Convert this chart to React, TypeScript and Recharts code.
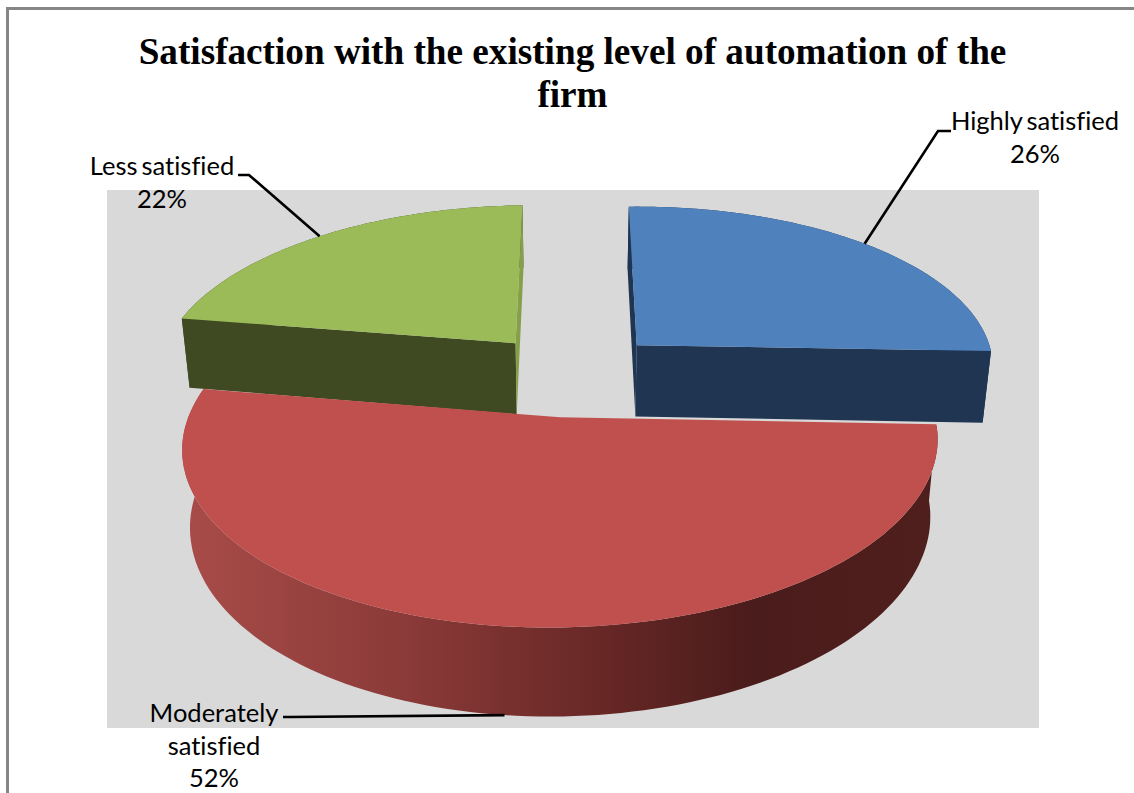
import React from "react";
import { PieChart, Pie } from "recharts";

const titleLines = ["Satisfaction with the existing level of automation of the", "firm"];
// Drawing order puts the front slice last; the clockwise order is kept: Less → Highly → Moderately
const categories = ["Less satisfied", "Highly satisfied", "Moderately satisfied"];
const shares = [22, 26, 52];
const wrappedNames: string[][] = [["Less satisfied"], ["Highly satisfied"], ["Moderately", "satisfied"]];

const topColors = ["#9bbb59", "#4f81bd", "#c0504d"];
const rimColors = ["#3f4a22", "#1f3552", "url(#redRim)"];
const startWallColors = ["#3f4a22", "#1f3552", ""];
const endWallColors = ["#86a04a", "#1f3552", ""];

const data = categories.map((name, i) => ({ name, value: shares[i], fill: topColors[i] }));

const W = 1134;
const H = 793;
const CX = 572;
const CY = 374;
const RADIUS = 360;
const EXPLODE = 91;
const DIST = 2500;
const HORIZON = 1153;
const DEPTH = 73;
const SHRINK = 0.02;
const ROLL = 0.012;
const firstAngle = 90 + (shares[0] / 100) * 360;

const labelLayout = [
  { elbow: [249, 175], end: [238, 175], textX: 162, baseY: 175 },
  { elbow: [938, 131], end: [951, 131], textX: 1035, baseY: 130 },
  { elbow: [290, 717], end: [283, 717], textX: 214, baseY: 722 },
];
const LINE_H = 32.7;

const rad = (d: number) => (d * Math.PI) / 180;

function project(cx: number, cy: number, r: number, thetaDeg: number, midDeg: number, z: number) {
  const u = EXPLODE * Math.sin(rad(midDeg)) + r * Math.sin(rad(thetaDeg));
  const v = EXPLODE * Math.cos(rad(midDeg)) + r * Math.cos(rad(thetaDeg));
  const p = DIST / (DIST + v);
  const s = 1 - (SHRINK * z) / DEPTH;
  return [cx + u * p * s, cy - HORIZON + (HORIZON + z) * p - ROLL * u * p];
}

const toPath = (pts: number[][]) =>
  "M" + pts.map((q) => `${q[0].toFixed(1)},${q[1].toFixed(1)}`).join("L") + "Z";

function Slice3D(props: any) {
  const { cx, cy, outerRadius, startAngle, endAngle, index } = props;
  const a = 90 - startAngle;
  const b = 90 - endAngle;
  const mid = (a + b) / 2;
  const n = 120;
  const arc = (z: number) => {
    const out: number[][] = [];
    for (let i = 0; i <= n; i++) out.push(project(cx, cy, outerRadius, a + ((b - a) * i) / n, mid, z));
    return out;
  };
  const apexT = project(cx, cy, 0, 0, mid, 0);
  const apexB = project(cx, cy, 0, 0, mid, DEPTH);
  const top = arc(0);
  const bot = arc(DEPTH);
  return (
    <g>
      <defs>
        <linearGradient id="redRim" x1="0" y1="0" x2="1" y2="0">
          <stop offset="0" stopColor="#a84c49" />
          <stop offset="0.3" stopColor="#8a3a38" />
          <stop offset="0.55" stopColor="#682826" />
          <stop offset="0.75" stopColor="#4a1c1b" />
          <stop offset="1" stopColor="#4f1f1d" />
        </linearGradient>
      </defs>
      <path d={toPath([...top, ...bot.slice().reverse()])} fill={rimColors[index]} />
      {startWallColors[index] && <path d={toPath([apexT, top[0], bot[0], apexB])} fill={startWallColors[index]} />}
      {endWallColors[index] && <path d={toPath([apexT, top[n], bot[n], apexB])} fill={endWallColors[index]} />}
      <path d={toPath([apexT, ...top])} fill={topColors[index]} />
    </g>
  );
}

function SliceLabel(props: any) {
  const { cx, cy, outerRadius, midAngle, percent, index } = props;
  const mid = 90 - midAngle;
  const layout = labelLayout[index];
  const anchor = project(cx, cy, outerRadius, mid, mid, index === 2 ? DEPTH : 0);
  const lines = [...wrappedNames[index], `${Math.round(percent * 100)}%`];
  return (
    <g>
      <polyline
        points={`${anchor[0]},${anchor[1]} ${layout.elbow[0]},${layout.elbow[1]} ${layout.end[0]},${layout.end[1]}`}
        fill="none"
        stroke="#000"
        strokeWidth={2.6}
      />
      <text
        x={layout.textX}
        y={layout.baseY}
        textAnchor="middle"
        fontFamily="Lato, sans-serif"
        fontSize={25.5}
        fill="#000"
        style={{ fontVariantLigatures: "none", wordSpacing: "-2.5px" }}
      >
        {lines.map((t, i) => (
          <tspan key={i} x={layout.textX} dy={i === 0 ? 0 : LINE_H}>
            {t}
          </tspan>
        ))}
      </text>
    </g>
  );
}

export default function App() {
  return (
    <div style={{ position: "absolute", left: 0, top: 0, width: W, height: H, background: "#fff", overflow: "hidden" }}>
      <div style={{ position: "absolute", left: 6, top: 7, width: W, height: H, border: "3px solid #868686", borderRight: "none", borderBottom: "none" }} />
      <div style={{ position: "absolute", left: 107, top: 190, width: 932, height: 538, background: "#d9d9d9" }} />
      <div
        style={{
          position: "absolute",
          left: 0,
          top: 30,
          width: 1145,
          textAlign: "center",
          fontFamily: "'Liberation Serif', serif",
          fontWeight: 700,
          fontSize: 37.2,
          lineHeight: "43px",
          color: "#000",
        }}
      >
        {titleLines.map((t) => (
          <div key={t}>{t}</div>
        ))}
      </div>
      <div style={{ position: "absolute", left: 0, top: 0 }}>
        <PieChart width={W} height={H} margin={{ top: 0, right: 0, bottom: 0, left: 0 }}>
          <Pie
            data={data}
            dataKey="value"
            nameKey="name"
            cx={CX}
            cy={CY}
            innerRadius={0}
            outerRadius={RADIUS}
            startAngle={firstAngle}
            endAngle={firstAngle - 360}
            stroke="none"
            isAnimationActive={false}
            shape={Slice3D}
            label={SliceLabel}
            labelLine={false}
          />
        </PieChart>
      </div>
    </div>
  );
}
